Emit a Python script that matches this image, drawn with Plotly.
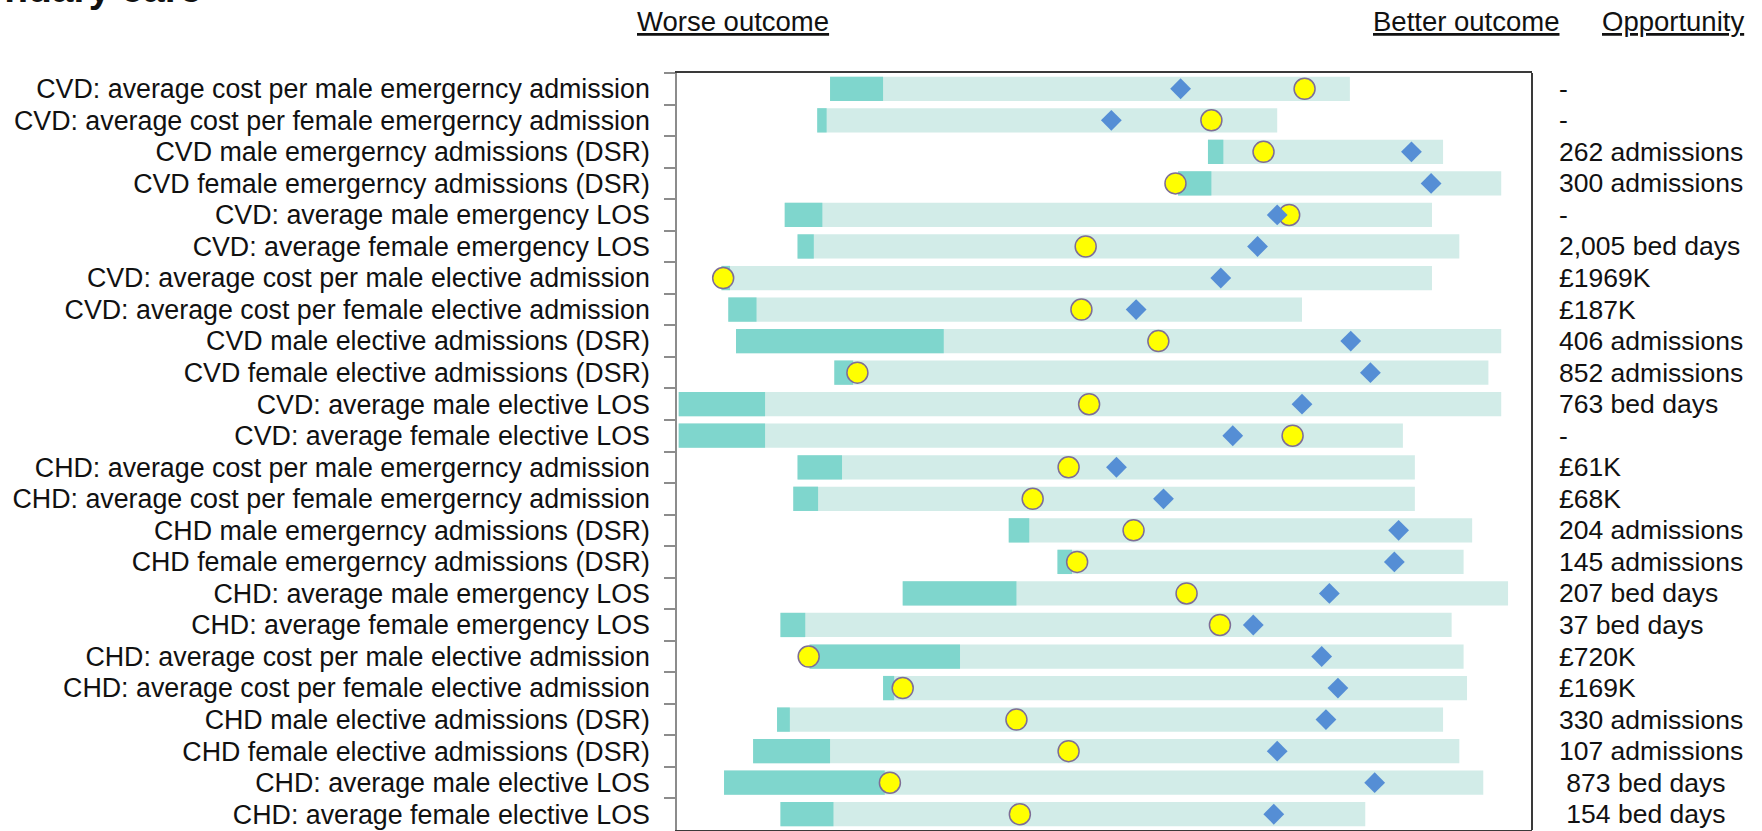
import plotly.graph_objects as go

labels = [
    "CVD: average cost per male emergerncy admission",
    "CVD: average cost per female emergerncy admission",
    "CVD male emergerncy admissions (DSR)",
    "CVD female emergerncy admissions (DSR)",
    "CVD: average male emergency LOS",
    "CVD: average female emergency LOS",
    "CVD: average cost per male elective admission",
    "CVD: average cost per female elective admission",
    "CVD male elective admissions (DSR)",
    "CVD female elective admissions (DSR)",
    "CVD: average male elective LOS",
    "CVD: average female elective LOS",
    "CHD: average cost per male emergerncy admission",
    "CHD: average cost per female emergerncy admission",
    "CHD male emergerncy admissions (DSR)",
    "CHD female emergerncy admissions (DSR)",
    "CHD: average male emergency LOS",
    "CHD: average female emergency LOS",
    "CHD: average cost per male elective admission",
    "CHD: average cost per female elective admission",
    "CHD male elective admissions (DSR)",
    "CHD female elective admissions (DSR)",
    "CHD: average male elective LOS",
    "CHD: average female elective LOS",
]

# normalised spine-chart positions (0 = worst edge, 100 = best edge)
range_min = [17.9, 16.4, 62.1, 58.6, 12.6, 14.1, 5.2, 6.0, 6.9, 18.4, 0.2, 0.2,
             14.1, 13.6, 38.8, 44.5, 26.4, 12.1, 15.5, 24.1, 11.7, 8.9, 5.5, 12.1]
worst_end = [24.1, 17.5, 63.9, 62.5, 17.0, 16.0, 6.2, 9.3, 31.2, 20.6, 10.3, 10.3,
             19.3, 16.5, 41.2, 46.2, 39.7, 15.0, 33.1, 25.4, 13.2, 17.9, 24.3, 18.3]
range_max = [78.7, 70.2, 89.6, 96.4, 88.3, 91.5, 88.3, 73.1, 96.4, 94.9, 96.4, 84.9,
             86.3, 86.3, 93.0, 92.0, 97.2, 90.6, 92.0, 92.4, 89.6, 91.5, 94.3, 80.5]
local_value = [73.4, 62.5, 68.6, 58.3, 71.6, 47.8, 5.4, 47.3, 56.3, 21.1, 48.2, 72.0,
               45.8, 41.6, 53.4, 46.8, 59.6, 63.5, 15.4, 26.4, 39.7, 45.8, 24.9, 40.1]
benchmark = [58.9, 50.8, 85.9, 88.2, 70.2, 67.9, 63.6, 53.7, 78.8, 81.1, 73.1, 65.0,
             51.4, 56.9, 84.4, 83.9, 76.3, 67.4, 75.4, 77.3, 75.9, 70.2, 81.6, 69.8]

opportunity = [
    "-", "-", "262 admissions", "300 admissions", "-", "2,005 bed days",
    "£1969K", "£187K", "406 admissions", "852 admissions", "763 bed days", "-",
    "£61K", "£68K", "204 admissions", "145 admissions", "207 bed days", "37 bed days",
    "£720K", "£169K", "330 admissions", "107 admissions", "\u00a0873 bed days", "\u00a0154 bed days",
]

FONT = "Liberation Sans, Arial, sans-serif"
W, H = 1762, 831
ML, MR, MT, MB = 677, 230, 73, 1
PW = W - ML - MR
PH = H - MT - MB


def px_x(x):
    return (x - ML) / PW


def px_y(y):
    return (H - MB - y) / PH


fig = go.Figure()
fig.add_trace(go.Bar(
    orientation="h", y=labels, base=range_min,
    x=[mx - mn for mn, mx in zip(range_min, range_max)],
    width=0.77, marker=dict(color="#D2ECE8", line=dict(width=0)),
    hoverinfo="skip", showlegend=False,
))
fig.add_trace(go.Bar(
    orientation="h", y=labels, base=range_min,
    x=[we - mn for mn, we in zip(range_min, worst_end)],
    width=0.77, marker=dict(color="#7FD6CD", line=dict(width=0)),
    hoverinfo="skip", showlegend=False,
))
fig.add_trace(go.Scatter(
    x=local_value, y=labels, mode="markers",
    marker=dict(symbol="circle", size=21, color="#FFFF00",
                line=dict(color="#7E6E96", width=1.5)),
    hoverinfo="skip", showlegend=False,
))
fig.add_trace(go.Scatter(
    x=benchmark, y=labels, mode="markers",
    marker=dict(symbol="diamond", size=16, color="#558ED5", line=dict(width=0)),
    hoverinfo="skip", showlegend=False,
))

annotations = []
for lab, txt in zip(labels, opportunity):
    annotations.append(dict(
        x=px_x(1557), xref="paper", y=lab, yref="y", text=txt,
        xanchor="left", yanchor="middle", showarrow=False,
        font=dict(family=FONT, size=26.5, color="#111111"),
    ))

hdr_font = dict(family=FONT, size=27.5, color="#111111", lineposition="under")
for txt, xl in [("Worse outcome", 635), ("Better outcome", 1371), ("Opportunity", 1600)]:
    annotations.append(dict(
        x=px_x(xl), xref="paper", y=px_y(21), yref="paper", text=txt,
        xanchor="left", yanchor="middle", showarrow=False, font=hdr_font,
    ))

annotations.append(dict(
    x=px_x(204), xref="paper", y=px_y(-11), yref="paper", text="<b>Secondary care</b>",
    xanchor="right", yanchor="middle", showarrow=False,
    font=dict(family=FONT, size=39, color="#111111"),
))

fig.update_layout(
    width=W, height=H, autosize=False,
    margin=dict(l=ML, r=MR, t=MT, b=MB, pad=0),
    paper_bgcolor="white", plot_bgcolor="white",
    barmode="overlay", showlegend=False,
    xaxis=dict(range=[0, 100], showgrid=False, zeroline=False, showticklabels=False,
               ticks="", showline=True, mirror=True, linecolor="#3A3A3A", linewidth=2,
               fixedrange=True),
    yaxis=dict(type="category", categoryorder="array", categoryarray=labels,
               range=[len(labels) - 0.5, -0.5], tickson="boundaries",
               tickmode="linear", tick0=0, dtick=1,
               ticks="outside", ticklen=11, tickwidth=1.5, tickcolor="#8C8C8C",
               showline=True, linecolor="#8C8C8C", linewidth=1.5, mirror=False,
               showgrid=False, zeroline=False, automargin=False,
               tickfont=dict(family=FONT, size=26.8, color="#111111"),
               ticklabelstandoff=20, fixedrange=True),
    shapes=[dict(type="line", xref="paper", yref="paper", x0=1, x1=1, y0=0, y1=1,
                 line=dict(color="#3A3A3A", width=2))],
    annotations=annotations,
)

fig.write_html("out.html", config={"displayModeBar": False},
               post_script="document.body.style.margin='0';document.body.style.overflow='hidden';")
